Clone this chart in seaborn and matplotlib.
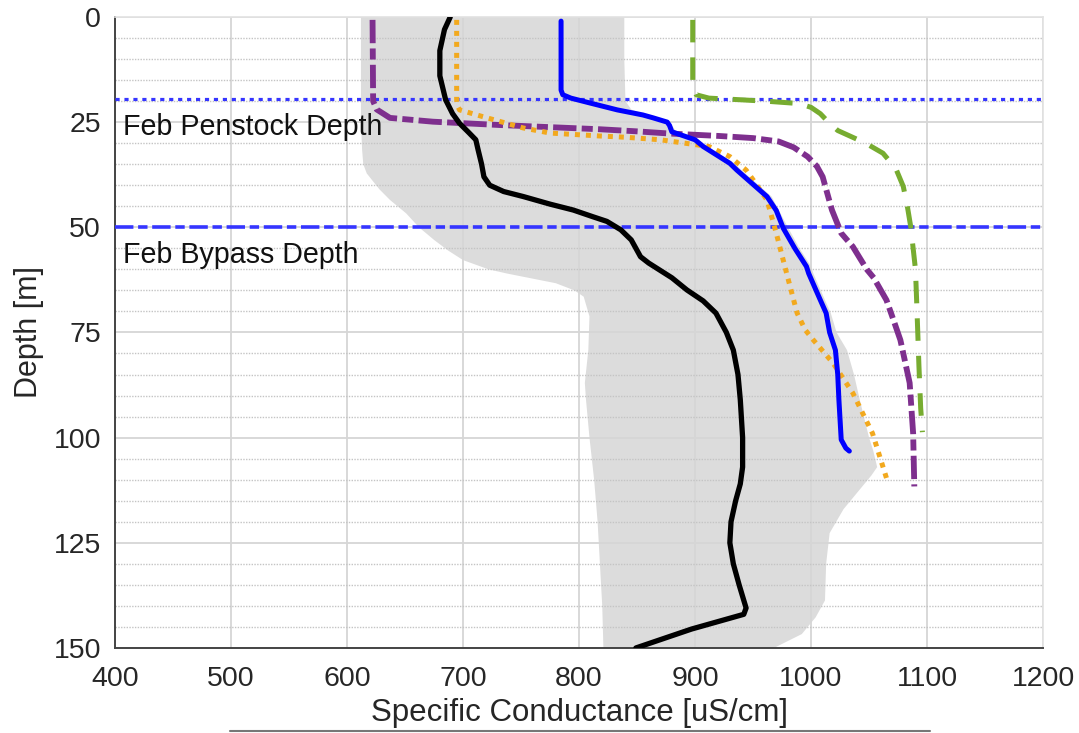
import numpy as np
import pandas as pd
import matplotlib
matplotlib.use("Agg")
import matplotlib.pyplot as plt
from matplotlib.ticker import MultipleLocator
from matplotlib.lines import Line2D
import seaborn as sns

# ---------------- data ----------------
black_depth = [0, 3, 8, 14, 19.7, 23, 25.3, 27.5, 29.2, 31.6, 35, 38, 40, 41.5, 42.7, 44.5,
               45.9, 47.5, 48.6, 50.6, 53, 57, 58.5, 62, 64.9, 67.5, 70.4, 75, 79.2, 85, 91,
               100, 107, 111, 115, 120, 125, 130, 135, 140.5, 142, 145.5, 150]
black_val = [689, 684, 680, 680, 685, 691, 697, 705, 711, 713, 716, 718, 723, 735, 752, 775,
             795, 812, 824, 836, 845, 853, 860, 880, 893, 907, 918, 927, 933, 937, 939,
             941, 941, 939, 935, 931, 930, 933, 938, 944, 942, 897, 849]

blue_depth = [1, 17.4, 18.5, 19.3, 20.5, 22.1, 23.3, 24, 25, 25.8, 27.3, 29.2, 30.8, 34.8,
              36.4, 42.7, 46, 50.2, 55, 59.3, 61, 67.3, 70.4, 75, 79.2, 85, 91, 100.5,
              102.5, 103.2]
blue_val = [784.5, 784.5, 786, 793, 810, 833, 855, 864, 876, 878, 880, 900, 907, 930,
            936, 962, 970, 976, 986, 996, 998, 1008, 1013, 1016, 1021, 1023, 1024, 1026,
            1030, 1033]

orange_depth = [0.7, 19.7, 21, 22.1, 23.7, 26.4, 27.6, 28.3, 28.6, 29.2, 30.8, 33.2, 36.4,
                38.7, 43.5, 51.4, 61, 67.3, 70.4, 74.4, 76.8, 82.3, 89.4, 99, 109.6]
orange_val = [694.5, 694.5, 695, 697, 717, 752, 775, 818, 840, 870, 912, 930, 944,
              950, 962, 970, 979, 985, 988, 995, 1002, 1019, 1036, 1053, 1065]

purple_depth = [0.7, 20, 22, 24, 24.9, 25.7, 26.7, 27.2, 27.7, 28.3, 28.8, 29.6, 31, 33.2,
                35.5, 38, 45.9, 51.4, 53, 54.6, 60, 62, 67.3, 72, 76.8, 87, 99, 111.6]
purple_val = [622, 622.5, 625.6, 637, 674, 732, 818, 850, 877, 921, 950, 972, 985, 997,
              1005, 1010, 1018, 1026, 1031, 1036, 1048, 1054, 1065, 1071, 1077, 1085, 1088, 1089]

green_depth = [0.7, 16.5, 18.5, 19.3, 19.7, 20.1, 20.6, 21.5, 23, 25.3, 27, 28.5, 30, 32.4,
               36, 40.3, 45, 50, 60, 67.3, 83, 93, 98.7]
green_val = [898, 898, 901, 912, 940, 965, 990, 1000, 1008, 1016, 1023, 1035, 1047, 1062,
             1073, 1079.5, 1083, 1086, 1090, 1091, 1093, 1094.5, 1096]

band_left_depth = [0, 10, 20, 25, 31.6, 35, 37.2, 41, 43.5, 46.7, 50, 53, 55.5, 57.8, 60, 61,
                   63.3, 65, 66.5, 71.2, 79.2, 87, 91, 100, 110, 120, 130, 140, 150]
band_left_val = [612, 612, 612, 612, 613, 614, 617, 628, 637, 651, 662, 675, 687, 700, 722, 738,
                 780, 796, 804, 809, 808, 805, 806, 809, 813, 816, 818, 820, 821]
band_right_depth = [0, 10, 20, 22, 23.3, 24, 25, 27.3, 29.2, 31, 34.8, 36.4, 42.7, 50, 55,
                    59.3, 61, 67.3, 70.4, 75, 79.2, 85, 91, 100, 103, 107, 109, 113, 117,
                    122.7, 130, 138.7, 142.7, 146.7, 150]
band_right_val = [839, 839, 840, 845, 858, 866, 878, 884, 903, 912, 934, 940, 966, 980, 990,
                  1000, 1002, 1012, 1017, 1022, 1031, 1037, 1042, 1050, 1053.5, 1057, 1052,
                  1040, 1028, 1016, 1013, 1012, 1004, 992, 968]

penstock_depth = 19.5
bypass_depth = 50
x_ticks = [400, 500, 600, 700, 800, 900, 1000, 1100, 1200]
y_ticks = [0, 25, 50, 75, 100, 125, 150]

# ---------------- plot ----------------
sns.set_theme(style="white")
plt.rcParams["font.family"] = ["Liberation Sans", "DejaVu Sans"]

fig = plt.figure(figsize=(10.79, 7.33), dpi=100)
ax = fig.add_axes([0.1066, 0.116, 0.8601, 0.8609])

# shaded envelope
poly_x = np.concatenate([band_left_val, band_right_val[::-1]])
poly_y = np.concatenate([band_left_depth, band_right_depth[::-1]])
ax.fill(poly_x, poly_y, color="#dcdcdc", lw=0, zorder=0.3)

def prof(x, y, color, lw, ls):
    df = pd.DataFrame({"x": x, "y": y})
    sns.lineplot(data=df, x="x", y="y", sort=False, estimator=None, color=color,
                 lw=lw, linestyle=ls, ax=ax, zorder=3)

prof(green_val, green_depth, "#77AC30", 3.6, (0, (4.5, 3.0)))
prof(purple_val, purple_depth, "#7E2F8E", 4.2, (0, (4.0, 0.9, 1.9, 0.9)))
prof(orange_val, orange_depth, "#F2A91E", 3.6, (0, (1.0, 1.2)))
prof(blue_val, blue_depth, "#0000FF", 3.6, "-")
prof(black_val, black_depth, "#000000", 3.8, "-")

ax.axhline(penstock_depth, color="#3535FF", lw=2.3, linestyle=(0, (1.3, 1.5)), zorder=2.8)
ax.axhline(bypass_depth, color="#3535FF", lw=2.6, linestyle=(0, (5.1, 1.3, 2.6, 1.3)), zorder=2.8)

ax.text(407, 28.0, "Feb Penstock Depth", fontsize=20.6, va="baseline", ha="left",
        color="#111111", zorder=4)
ax.text(407, 58.5, "Feb Bypass Depth", fontsize=20.6, va="baseline", ha="left",
        color="#111111", zorder=4)

ax.set_xlim(400, 1200)
ax.set_ylim(150, 0)
ax.set_xticks(x_ticks)
ax.set_yticks(y_ticks)
ax.yaxis.set_minor_locator(MultipleLocator(5))

ax.set_axisbelow(True)
ax.grid(True, which="major", color="#d6d6d6", lw=1.3, linestyle="-")
ax.yaxis.grid(True, which="minor", color="#c4c4c4", lw=1.0, linestyle=(0, (1, 1)))

ax.tick_params(axis="both", which="major", direction="in", length=7, width=1.2,
               color="#555555", labelsize=20.5, labelcolor="#262626")
ax.tick_params(axis="x", pad=13)
ax.tick_params(axis="y", pad=10)
ax.tick_params(axis="y", which="minor", direction="in", length=4, width=1.0, color="#555555")

for side in ["left", "bottom"]:
    ax.spines[side].set_color("#444444")
    ax.spines[side].set_linewidth(1.4)
for side in ["top", "right"]:
    ax.spines[side].set_color("#e2e2e2")
    ax.spines[side].set_linewidth(1.2)

ax.set_xlabel("Specific Conductance [uS/cm]", fontsize=22.5, color="#262626", labelpad=4)
ax.set_ylabel("Depth [m]", fontsize=22, color="#262626")
ax.yaxis.set_label_coords(-0.0765, 0.5)

fig.add_artist(Line2D([230 / 1079, 930 / 1079], [1 - 731 / 733, 1 - 731 / 733],
                      transform=fig.transFigure, color="#777777", lw=1.5))

fig.savefig("out.png", dpi=100)
